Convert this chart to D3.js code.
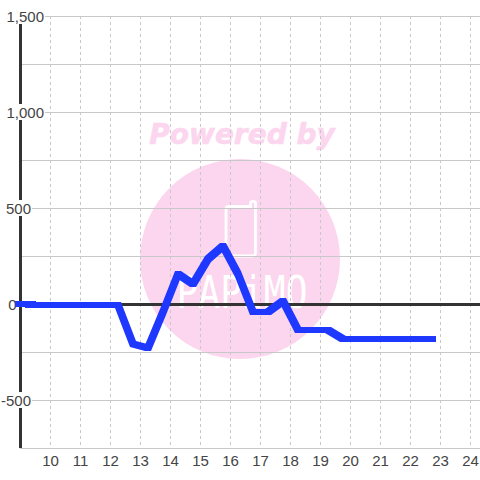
<!DOCTYPE html>
<html><head><meta charset="utf-8">
<script src="https://cdn.jsdelivr.net/npm/d3@7"></script>
<style>html,body{margin:0;padding:0;background:#fff}svg{display:block}</style>
</head><body><svg id="c" width="480" height="480"></svg>
<script>
const hours=[9.25,9.75,10.25,10.75,11.25,11.75,12.25,12.75,13.25,13.75,14.25,14.75,15.25,15.75,16.25,16.75,17.25,17.75,18.25,18.75,19.25,19.75,20.25,20.75,21.25,21.75,22.25,22.75];
const values=[-4,-4,-4,-4,-4,-4,-4,-210,-230,-40,155,105,235,302,155,-40,-40,15,-135,-135,-135,-180,-180,-180,-180,-180,-180,-180];
const stubHours=[8.9,9.4];
const stubValues=[1,1];
const yTicks=[1500,1000,500,0,-500];
const yLabels=["1,500","1,000","500","0","-500"];
const yGrid=[1500,1250,1000,750,500,250,0,-250,-500,-750];
const xTicks=[10,11,12,13,14,15,16,17,18,19,20,21,22,23,24];
const svg=d3.select("#c");
const x=d3.scaleLinear().domain([9,24.3]).range([20.5,479.5]);
const y=d3.scaleLinear().domain([1500,-750]).range([16,448]);
const font="'Liberation Sans',Arial,sans-serif";
const pink="#fcd6ee";
// watermark
svg.append("circle").attr("cx",240).attr("cy",259).attr("r",100).attr("fill",pink);
svg.append("text").attr("x",242).attr("y",144).attr("text-anchor","middle")
 .attr("font-family","'DejaVu Sans'").attr("font-weight","bold").attr("font-style","italic")
 .attr("font-size",28).attr("fill",pink).attr("stroke",pink).attr("stroke-width",.6).text("Powered by");
svg.append("path").attr("d","M229 206.5H250.5V203Q250.5 201.5 253 201.5Q255.5 201.5 255.5 203V253Q255.5 256 252.5 256H229Q226 256 226 253V209.5Q226 206.5 229 206.5Z")
 .attr("fill","none").attr("stroke","#fff").attr("stroke-width",2.8);
svg.append("text").attr("x",242).attr("y",308).attr("text-anchor","middle")
 .attr("font-family","'DejaVu Sans Mono'").attr("font-size",45).attr("fill","#fff")
 .attr("textLength",131).attr("lengthAdjust","spacingAndGlyphs").text("PAPiMO");
// grid
svg.append("g").selectAll("line").data(yGrid).join("line")
 .attr("x1",20).attr("x2",480)
 .attr("y1",d=>Math.round(y(d))+.5).attr("y2",d=>Math.round(y(d))+.5)
 .attr("stroke","#c8c8c8").attr("stroke-width",1);
svg.append("g").selectAll("line").data(xTicks).join("line")
 .attr("x1",d=>x(d)).attr("x2",d=>x(d)).attr("y1",16).attr("y2",448)
 .attr("stroke","#c8c8c8").attr("stroke-dasharray","3,3");
// axes
svg.append("line").attr("x1",20.5).attr("x2",20.5).attr("y1",16).attr("y2",448).attr("stroke","#333").attr("stroke-width",3);
svg.append("line").attr("x1",20).attr("x2",480).attr("y1",y(0)+.5).attr("y2",y(0)+.5).attr("stroke","#333").attr("stroke-width",3);
// y labels with white backing
const labelRight=d=>d>=1000?44:(d===0?16.5:31);
const yl=svg.append("g");
yTicks.forEach((d,i)=>{
  const t=yl.append("text").attr("x",labelRight(d)).attr("y",y(d)+6).attr("text-anchor","end")
    .attr("font-family",font).attr("font-size",15).attr("fill","#444").text(yLabels[i]);
  const b=t.node().getBBox();
  yl.insert("rect","text").attr("x",b.x-1).attr("y",y(d)-8).attr("width",b.width+2).attr("height",16).attr("fill","#fff");
});
svg.append("g").selectAll("text").data(xTicks).join("text")
 .attr("x",d=>x(d)).attr("y",466).attr("text-anchor","middle").attr("font-family",font).attr("font-size",15).attr("fill","#444").text(d=>d);
// line drawn with a square 6px pen: each segment is the hull of two squares, all in one path
const pen=3;
function penPath(hs,vs){
  const pts=d3.zip(hs,vs).map(([h,v])=>[Math.round(x(h)),Math.round(y(v))]);
  return d3.pairs(pts).map(([a,b])=>{
    const corners=[a,b].flatMap(p=>[[p[0]-pen,p[1]-pen],[p[0]+pen,p[1]-pen],[p[0]+pen,p[1]+pen],[p[0]-pen,p[1]+pen]]);
    return "M"+d3.polygonHull(corners).join("L")+"Z";
  }).join("");
}
svg.append("path").attr("d",penPath(hours,values)+penPath(stubHours,stubValues)).attr("fill","#1f38ff");
</script></body></html>
